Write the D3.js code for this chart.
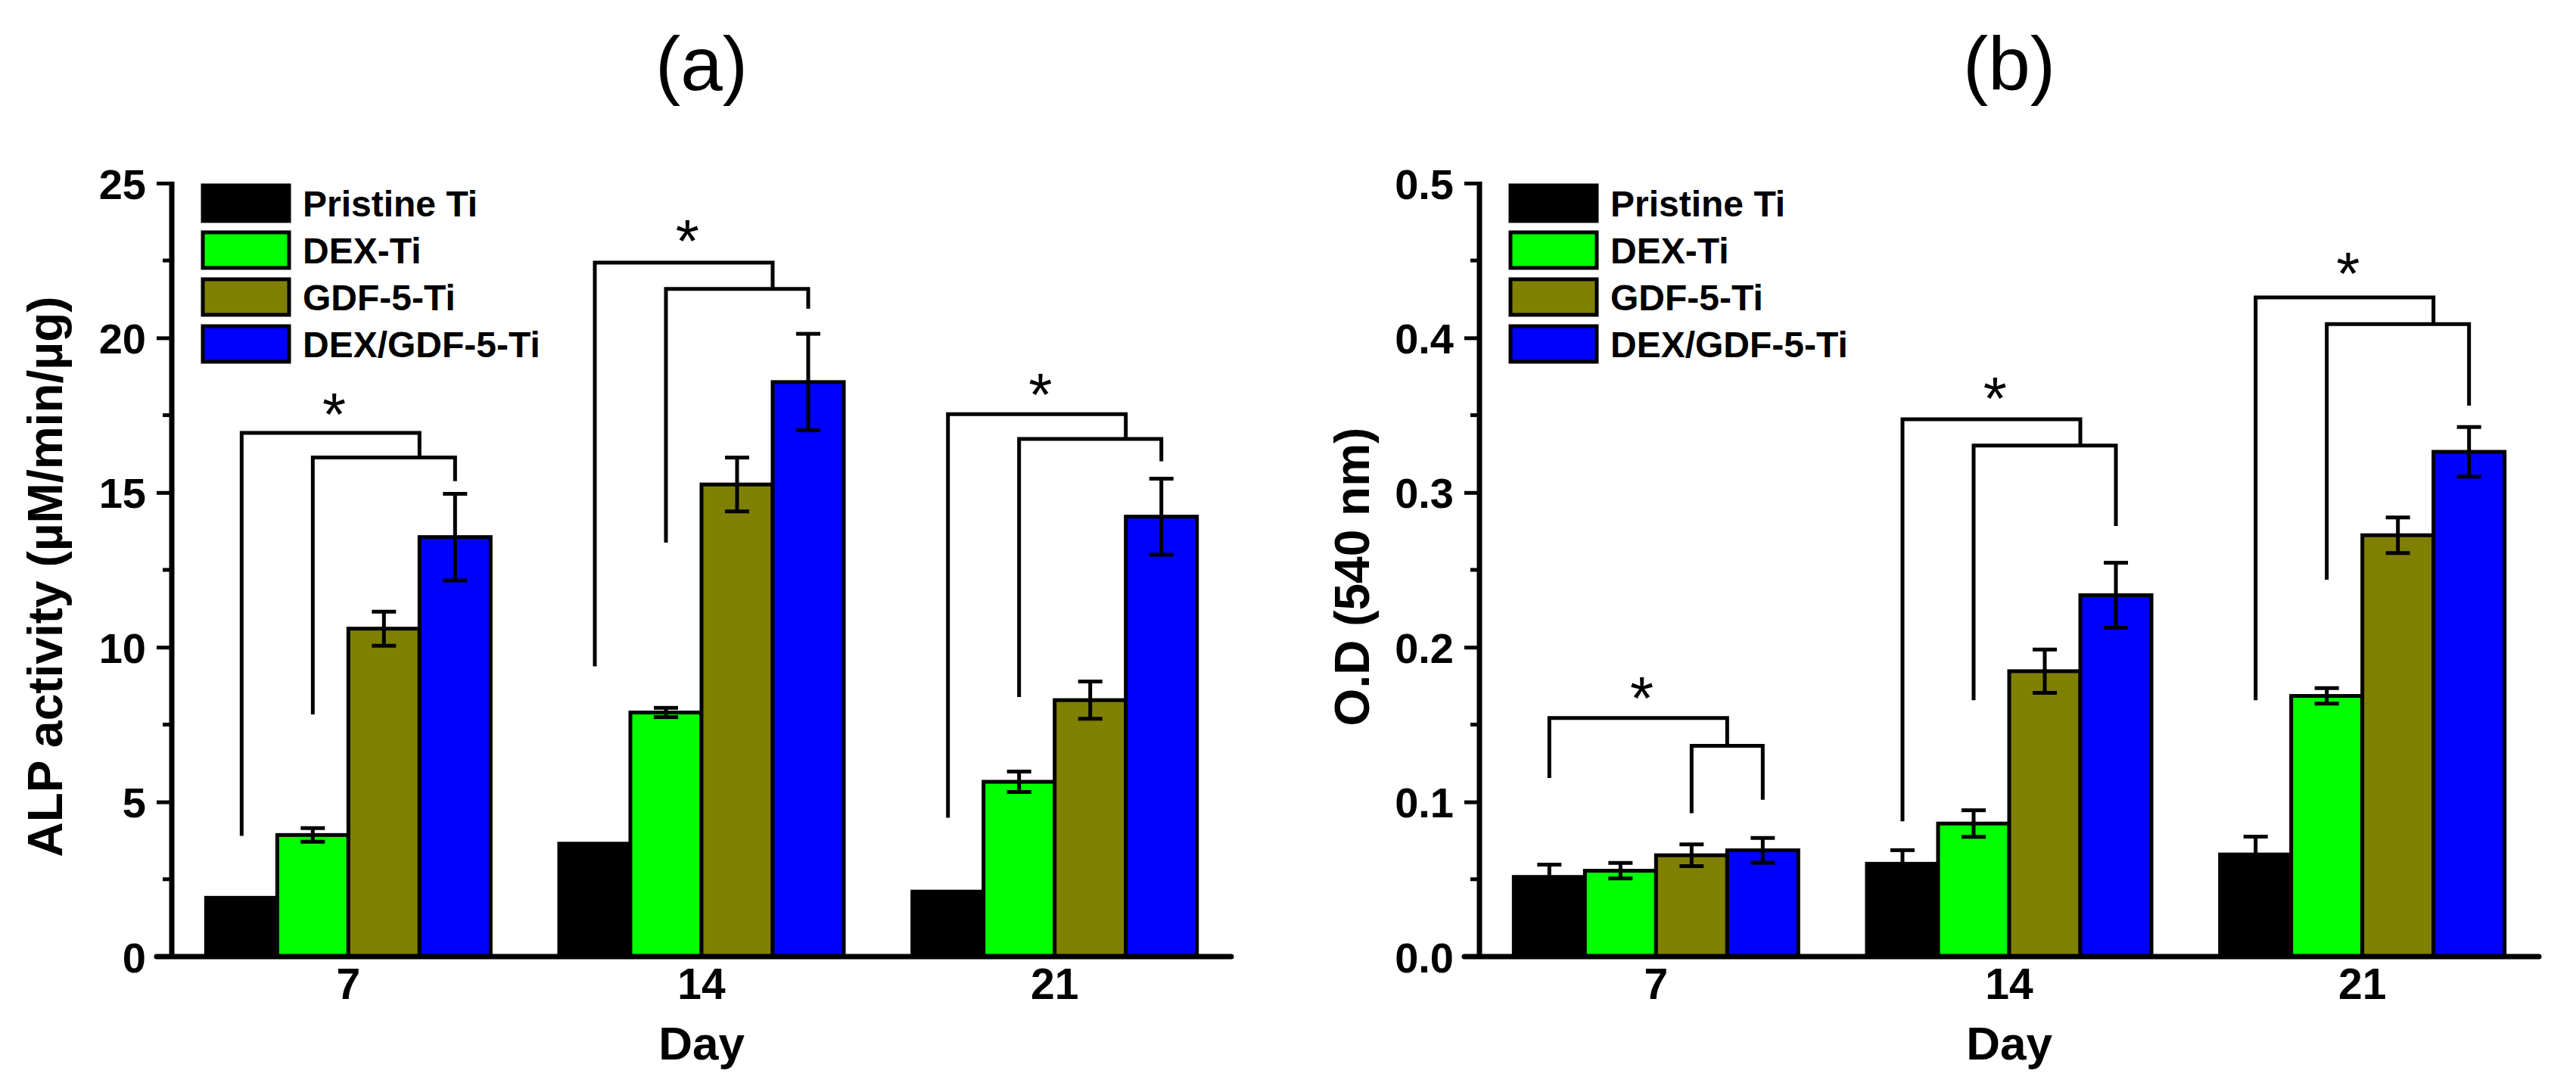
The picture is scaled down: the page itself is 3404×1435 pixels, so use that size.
<!DOCTYPE html>
<html>
<head>
<meta charset="utf-8">
<script src="https://cdn.jsdelivr.net/npm/d3@7"></script>
<style>
  body { margin: 0; background: #fff; }
  text { font-family: "Liberation Sans", Arial, sans-serif; }
</style>
</head>
<body>
<div id="chart"></div>
<script>
// categories and series
const days = [7, 14, 21];
const groups = ["Pristine Ti", "DEX-Ti", "GDF-5-Ti", "DEX/GDF-5-Ti"];
const colors = ["#000000", "#00ff00", "#808000", "#0000ff"];

// (a) ALP activity, one row per group, one column per day
const alpMean = [[1.9, 3.65, 2.1], [3.93, 7.89, 5.65], [10.6, 15.26, 8.29], [13.56, 18.57, 14.22]];
const alpErr = [[0, 0, 0], [0.22, 0.15, 0.33], [0.55, 0.87, 0.6], [1.4, 1.56, 1.23]];
const alpTicks = [0, 5, 10, 15, 20, 25];
// significance brackets for (a), one value per day
const alpOuterTop = [16.93, 22.43, 17.53];
const alpInnerTop = [16.13, 21.58, 16.73];
const alpOuterLeg = [3.9, 9.38, 4.49];
const alpInnerLeg = [7.83, 13.38, 8.39];
const alpInnerEnd = [15.37, 20.94, 16.01];
const alpInnerFrom = [1, 1, 1];
const alpStar = [17.6, 23.2, 18.23];

// (b) O.D (540 nm)
const odMean = [[0.0515, 0.06, 0.066], [0.0555, 0.086, 0.1685], [0.0655, 0.1845, 0.2724], [0.0687, 0.2336, 0.3263]];
const odErr = [[0.008, 0.0088, 0.0116], [0.005, 0.0086, 0.005], [0.007, 0.014, 0.0115], [0.008, 0.021, 0.016]];
const odTicks = [0, 0.1, 0.2, 0.3, 0.4, 0.5];
const odOuterTop = [0.1542, 0.3474, 0.4261];
const odInnerTop = [0.1362, 0.3303, 0.4089];
const odOuterLeg = [0.1154, 0.0875, 0.1657];
const odInnerLeg = [0.0927, 0.1657, 0.2436];
const odInnerEnd = [0.1014, 0.2784, 0.3562];
const odInnerFrom = [2, 1, 1];
const odStar = [0.1685, 0.3622, 0.4429];

const W = 3404, H = 1435;
const TOP = 242, BOTTOM = 1264, PLOT_W = 1400;
const LINE = 5;

const svg = d3.select("#chart").append("svg")
    .attr("width", W)
    .attr("height", H);

function plotPanel(cfg) {
    const left = cfg.left;
    const x = d3.scaleLinear().domain([3.5, 24.5]).range([left, left + PLOT_W]);
    const y = d3.scaleLinear().domain([0, cfg.max]).range([BOTTOM, TOP]);
    const bw = x(1.41) - x(0);
    const cx = (d, i) => x(d) + (i - 1.5) * bw;

    const g = svg.append("g");

    // bars
    groups.forEach((name, gi) => {
        g.selectAll(null)
            .data(days)
            .enter()
            .append("rect")
            .attr("x", (d, di) => cx(d, gi) - bw / 2)
            .attr("y", (d, di) => y(cfg.mean[gi][di]))
            .attr("width", bw)
            .attr("height", (d, di) => y(0) - y(cfg.mean[gi][di]))
            .attr("fill", colors[gi])
            .attr("stroke", "#000")
            .attr("stroke-width", LINE);
    });

    // error bars
    groups.forEach((name, gi) => {
        days.forEach((d, di) => {
            const m = cfg.mean[gi][di], e = cfg.err[gi][di];
            if (e <= 0) return;
            const xc = cx(d, gi);
            const eg = g.append("g").attr("stroke", "#000").attr("stroke-width", LINE);
            eg.append("line").attr("x1", xc).attr("x2", xc).attr("y1", y(m - e)).attr("y2", y(m + e));
            [m - e, m + e].forEach(v => {
                eg.append("line").attr("x1", xc - 16).attr("x2", xc + 16).attr("y1", y(v)).attr("y2", y(v));
            });
        });
    });

    // significance brackets
    days.forEach((d, di) => {
        const b = cfg.br;
        const x0 = cx(d, 0), xJoin = cx(d, 2.5);
        const xi0 = cx(d, b.from[di]), xi1 = cx(d, 3);
        const pts1 = [[x0, y(b.outerLeg[di])], [x0, y(b.outerTop[di])], [xJoin, y(b.outerTop[di])], [xJoin, y(b.innerTop[di])]];
        const pts2 = [[xi0, y(b.innerLeg[di])], [xi0, y(b.innerTop[di])], [xi1, y(b.innerTop[di])], [xi1, y(b.innerEnd[di])]];
        [pts1, pts2].forEach(p => {
            g.append("path")
                .attr("d", d3.line()(p))
                .attr("fill", "none")
                .attr("stroke", "#000")
                .attr("stroke-width", LINE);
        });
        g.append("text")
            .attr("x", cx(d, 1.3))
            .attr("y", y(b.star[di]) + 30)
            .attr("text-anchor", "middle")
            .style("font-size", "80px")
            .text("*");
    });

    // y axis
    const yAxis = d3.axisLeft(y).tickValues(cfg.ticks).tickFormat(cfg.fmt)
        .tickSize(20).tickPadding(14);
    const ya = g.append("g").attr("transform", `translate(${left},0)`).call(yAxis);
    ya.select(".domain").remove();
    ya.selectAll(".tick line").attr("stroke-width", LINE);
    ya.selectAll(".tick text")
        .style("font-size", "56px")
        .style("font-weight", "bold")
        .attr("dy", "0.36em");
    // minor ticks
    const minor = cfg.ticks.slice(0, -1).map((t, i) => (t + cfg.ticks[i + 1]) / 2);
    g.selectAll(null).data(minor).enter().append("line")
        .attr("x1", left - 12).attr("x2", left)
        .attr("y1", v => y(v)).attr("y2", v => y(v))
        .attr("stroke", "#000").attr("stroke-width", LINE);

    // axis lines
    g.append("line").attr("x1", left).attr("x2", left).attr("y1", TOP - 2).attr("y2", BOTTOM)
        .attr("stroke", "#000").attr("stroke-width", 7);
    g.append("line").attr("x1", left - 20).attr("x2", left + PLOT_W).attr("y1", BOTTOM).attr("y2", BOTTOM)
        .attr("stroke", "#000").attr("stroke-width", 7).attr("stroke-linecap", "round");

    // x tick labels
    g.selectAll(null).data(days).enter().append("text")
        .attr("x", d => x(d))
        .attr("y", 1320)
        .attr("text-anchor", "middle")
        .style("font-size", "57px")
        .style("font-weight", "bold")
        .text(d => d);

    // axis titles
    g.append("text")
        .attr("x", x(14))
        .attr("y", 1400)
        .attr("text-anchor", "middle")
        .style("font-size", "62px")
        .style("font-weight", "bold")
        .text("Day");
    g.append("text")
        .attr("transform", `translate(${left - cfg.titleGap},762) rotate(-90)`)
        .attr("text-anchor", "middle")
        .style("font-size", "64px")
        .style("font-weight", "bold")
        .text(cfg.yTitle);

    // panel title
    g.append("text")
        .attr("x", x(14))
        .attr("y", 119)
        .attr("text-anchor", "middle")
        .style("font-size", "100px")
        .text(cfg.title);

    // legend
    const legend = g.append("g").attr("transform", `translate(${left + 41}, 245)`);
    legend.selectAll("rect").data(groups).enter().append("rect")
        .attr("y", (d, i) => i * 62)
        .attr("width", 114)
        .attr("height", 47)
        .attr("fill", (d, i) => colors[i])
        .attr("stroke", "#000")
        .attr("stroke-width", LINE);
    legend.selectAll("text").data(groups).enter().append("text")
        .attr("x", 132)
        .attr("y", (d, i) => i * 62 + 41)
        .style("font-size", "48px")
        .style("font-weight", "bold")
        .text(d => d);
}

plotPanel({
    left: 227, max: 25, mean: alpMean, err: alpErr, ticks: alpTicks, fmt: d3.format("d"),
    title: "(a)", yTitle: "ALP activity (\u00b5M/min/\u00b5g)", titleGap: 145,
    br: { outerTop: alpOuterTop, innerTop: alpInnerTop, outerLeg: alpOuterLeg, innerLeg: alpInnerLeg,
          innerEnd: alpInnerEnd, from: alpInnerFrom, star: alpStar }
});

plotPanel({
    left: 1955, max: 0.5, mean: odMean, err: odErr, ticks: odTicks, fmt: d3.format(".1f"),
    title: "(b)", yTitle: "O.D (540 nm)", titleGap: 146,
    br: { outerTop: odOuterTop, innerTop: odInnerTop, outerLeg: odOuterLeg, innerLeg: odInnerLeg,
          innerEnd: odInnerEnd, from: odInnerFrom, star: odStar }
});
</script>
</body>
</html>
